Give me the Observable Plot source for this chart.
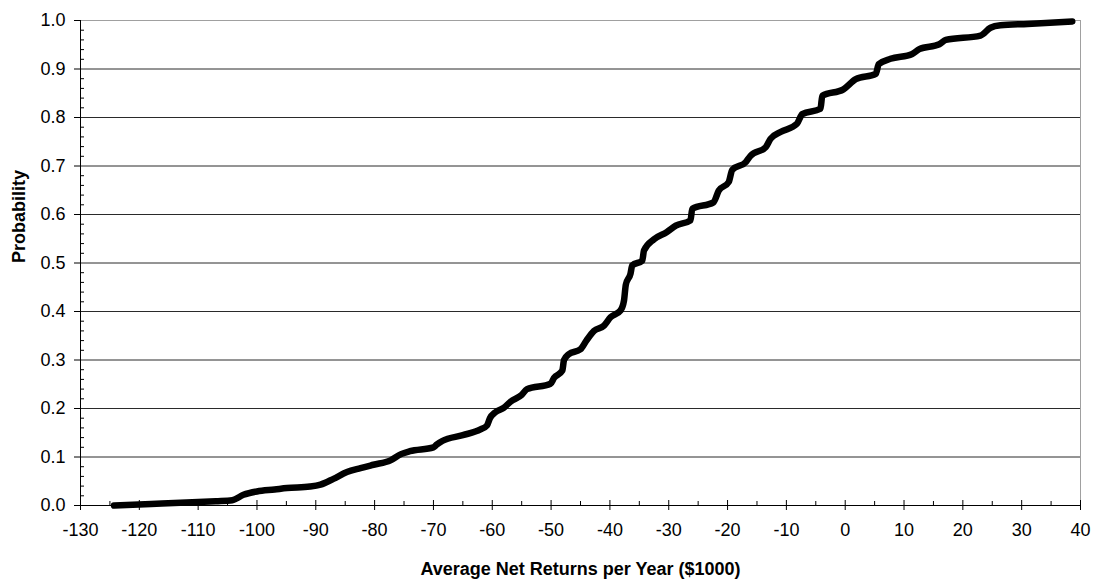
<!DOCTYPE html>
<html>
<head>
<meta charset="utf-8">
<script src="https://cdn.jsdelivr.net/npm/d3@7"></script>
<script src="https://cdn.jsdelivr.net/npm/@observablehq/plot@0.6"></script>
<style>
  body { margin: 0; background: #fff; }
  svg { display: block; }
</style>
</head>
<body>
<div id="chart"></div>
<script>
// Average net returns per year ($1000) — cumulative distribution
const netReturns = [
  -124.3, -118, -112, -107, -104.2, -102.3, -100, -97, -94.9, -91, -89.2, -87,
  -84.7, -82.4, -80.2, -77.3, -75.5, -74, -70, -69.4, -68.5, -65, -62, -60.9,
  -60.4, -59.5, -58, -56.9, -55, -54.1, -50.1, -49.5, -48.1, -47.8, -47, -45,
  -44, -42.7, -41.0, -39.9, -38.2, -37.6, -37.3, -36.5, -36.2, -34.5, -34.2,
  -32.5, -30.3, -28.8, -26.3, -26.0, -22.4, -21.5, -19.8, -19.2, -16.9, -16.1,
  -13.5, -12.7, -11.0, -8.2, -7.3, -4.2, -3.9, -0.3, 1.8, 5.2, 5.7, 7.7, 11.4,
  12.6, 16.0, 17.1, 23.0, 24.7, 26.4, 31.0, 38.6
];
const probability = [
  0.000, 0.003, 0.006, 0.009, 0.011, 0.022, 0.029, 0.033, 0.036, 0.039, 0.043, 0.055,
  0.069, 0.077, 0.084, 0.093, 0.106, 0.112, 0.120, 0.126, 0.133, 0.145, 0.157, 0.165,
  0.180, 0.192, 0.202, 0.214, 0.228, 0.240, 0.251, 0.263, 0.278, 0.300, 0.312, 0.322,
  0.340, 0.360, 0.371, 0.388, 0.402, 0.423, 0.455, 0.478, 0.495, 0.505, 0.526,
  0.549, 0.564, 0.577, 0.588, 0.612, 0.625, 0.649, 0.667, 0.692, 0.708, 0.721,
  0.739, 0.756, 0.770, 0.787, 0.807, 0.818, 0.845, 0.858, 0.879, 0.890, 0.910, 0.921, 0.931,
  0.941, 0.951, 0.960, 0.969, 0.985, 0.990, 0.993, 0.998
];
const xTicks = [-130, -120, -110, -100, -90, -80, -70, -60, -50, -40, -30, -20, -10, 0, 10, 20, 30, 40];
const yTicks = [0.0, 0.1, 0.2, 0.3, 0.4, 0.5, 0.6, 0.7, 0.8, 0.9, 1.0];
const xMinorTicks = [-125, -115, -105, -95, -85, -75, -65, -55, -45, -35, -25, -15, -5, 5, 15, 25, 35];
const yMinorTicks = [0.02, 0.04, 0.06, 0.08, 0.12, 0.14, 0.16, 0.18, 0.22, 0.24, 0.26, 0.28,
  0.32, 0.34, 0.36, 0.38, 0.42, 0.44, 0.46, 0.48, 0.52, 0.54, 0.56, 0.58, 0.62, 0.64, 0.66, 0.68,
  0.72, 0.74, 0.76, 0.78, 0.82, 0.84, 0.86, 0.88, 0.92, 0.94, 0.96, 0.98];
const xTitle = "Average Net Returns per Year ($1000)";
const yTitle = "Probability";

const data = netReturns.map((x, i) => ({x, y: probability[i]}));

const W = 1096, H = 579;
const mL = 80, mR = 16, mT = 20, mB = 74;
const plotW = W - mL - mR, plotH = H - mT - mB;

const chart = Plot.plot({
  width: W,
  height: H,
  marginLeft: mL,
  marginRight: mR,
  marginTop: mT,
  marginBottom: mB,
  style: {fontFamily: "'Liberation Sans', Arial, sans-serif", fontSize: "18px", color: "#000", background: "#fff", overflow: "visible"},
  x: {domain: [xTicks[0], xTicks[xTicks.length - 1]]},
  y: {domain: [yTicks[0], yTicks[yTicks.length - 1]]},
  marks: [
    Plot.ruleY(yTicks.slice(1, -1), {stroke: "#2a2a2a", strokeWidth: 1}),
    Plot.ruleY(yTicks.slice(-1), {stroke: "#a0a0a0", strokeWidth: 1}),
    Plot.ruleX(xTicks.slice(-1), {stroke: "#a0a0a0", strokeWidth: 1}),
    Plot.tickY(yMinorTicks, {y: d => d, insetRight: plotW - 4, stroke: "#000"}),
    Plot.tickX(xMinorTicks, {x: d => d, insetTop: plotH - 4, stroke: "#000"}),
    Plot.tickX(xTicks, {x: d => d, insetTop: plotH - 5, stroke: "#000"}),
    Plot.axisX({ticks: xTicks, tickSize: 5, tickPadding: 13, tickFormat: d => String(d), label: null, stroke: "#000"}),
    Plot.axisY({ticks: yTicks, tickSize: 6, tickPadding: 9, tickFormat: d => d.toFixed(1), label: null, stroke: "#000"}),
    Plot.ruleY(yTicks.slice(0, 1), {stroke: "#000", strokeWidth: 1}),
    Plot.ruleX(xTicks.slice(0, 1), {stroke: "#000", strokeWidth: 1}),
    Plot.line(data, {x: "x", y: "y", stroke: "#000", strokeWidth: 6.5, curve: "monotone-x", strokeLinejoin: "round", strokeLinecap: "round"}),
    Plot.text([xTitle], {text: d => d, frameAnchor: "bottom", dy: 69, fontWeight: "bold", fontSize: 18, fill: "#000"}),
    Plot.text([yTitle], {text: d => d, frameAnchor: "left", dx: -61, rotate: -90, fontWeight: "bold", fontSize: 18, fill: "#000"})
  ]
});
document.getElementById("chart").appendChild(chart);
</script>
</body>
</html>
